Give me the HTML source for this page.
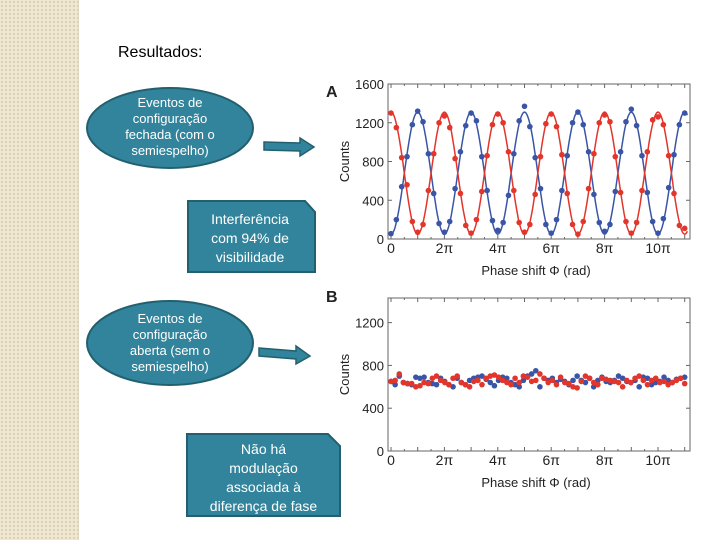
<!DOCTYPE html>
<html><head><meta charset="utf-8"><style>
body{margin:0;width:720px;height:540px;overflow:hidden;background:#fff;font-family:"Liberation Sans",sans-serif;position:relative}
.strip{position:absolute;left:0;top:0;width:78px;height:540px;background-color:#efe7d2;background-image:radial-gradient(#d9ceb0 1px,transparent 1.2px);background-size:4px 4px;border-right:1px solid #e0d6bd}
.t{position:absolute;color:#fff;text-align:center;font-size:13px;line-height:16px}
</style></head><body>
<div class="strip"></div>
<div style="position:absolute;left:118px;top:44px;font-size:16px">Resultados:</div>
<svg width="720" height="540" style="position:absolute;left:0;top:0" id="svg">
<g>
<ellipse cx="170" cy="128" rx="83" ry="40" fill="#31849b" stroke="#23606f" stroke-width="2"/></g>
<g>
<ellipse cx="170" cy="343" rx="83" ry="42" fill="#31849b" stroke="#23606f" stroke-width="2"/></g>
<polygon points="264,142 300,143 300,138 314,147 300,156 300,151 264,150" fill="#31849b" stroke="#23606f" stroke-width="1.5"/>
<polygon points="259,348 296,351 296,346 310,356 296,364 296,359 259,356" fill="#31849b" stroke="#23606f" stroke-width="1.5"/>
<polygon points="188,201 305,201 315,212 315,272 188,272" fill="#31849b" stroke="#23606f" stroke-width="2"/>
<polygon points="187,434 328,434 340,446 340,516 187,516" fill="#31849b" stroke="#23606f" stroke-width="2"/>
<g id="chartA"></g>
<g id="chartB"></g>
</svg>
<div class="t" style="left:95px;top:95px;width:150px">Eventos de<br>configuração<br>fechada (com o<br>semiespelho)</div>
<div class="t" style="left:95px;top:311px;width:150px">Eventos de<br>configuração<br>aberta (sem o<br>semiespelho)</div>
<div class="t" style="left:188px;top:210px;width:124px;font-size:14px;line-height:19px">Interferência<br>com 94% de<br>visibilidade</div>
<div class="t" style="left:187px;top:440px;width:153px;font-size:14px;line-height:19px">Não há<br>modulação<br>associada à<br>diferença de fase</div>
<script>
const xTicks=["0","2π","4π","6π","8π","10π"];
const yTicksA=[0,400,800,1200,1600];
const yTicksB=[0,400,800,1200];
const blueA=[55,200,540,850,1180,1320,1210,880,470,160,70,180,520,900,1170,1300,1220,850,500,190,90,170,450,880,1220,1370,1160,840,520,150,60,200,500,860,1200,1310,1180,900,460,170,80,150,490,900,1210,1340,1170,860,480,180,60,210,530,870,1180,1300];
const redA=[1300,1150,840,560,180,70,150,500,880,1200,1270,1150,830,470,140,60,200,490,860,1180,1290,1200,900,500,170,70,150,460,850,1190,1290,1160,870,470,150,50,180,520,880,1200,1280,1210,850,480,180,60,170,500,900,1230,1260,1180,860,470,140,110];
const fitMean=[680];
const fitAmp=[630];
const blueB=[650,620,700,640,630,620,690,680,690,640,630,620,680,650,620,600,680,640,620,660,680,690,700,670,640,610,660,690,680,640,620,600,660,700,720,750,600,680,660,680,640,670,650,620,660,700,660,640,680,600,660,690,650,640,660,700,680,650,640,660,600,690,680,620,640,650,690,660,640,670,680,690];
const redB=[650,660,720,640,630,630,600,610,640,630,680,700,660,640,620,680,700,640,620,600,650,660,620,680,700,710,690,660,640,620,680,640,700,690,650,660,720,680,640,660,620,690,640,630,600,590,650,700,680,640,620,680,670,660,650,640,600,660,640,680,700,660,620,660,680,640,650,620,640,660,680,630];
const NS="http://www.w3.org/2000/svg";
function mk(p,t,a){const e=document.createElementNS(NS,t);for(const k in a)e.setAttribute(k,a[k]);p.appendChild(e);return e;}
function axes(g,x0,x1,yTop,yBot,ymax,yt,letter,ly){
 const X=v=>391+v/(10*Math.PI)*267;
 const Y=v=>yBot-(v/ymax)*(yBot-yTop);
 const fr=mk(g,'rect',{x:x0,y:yTop,width:x1-x0,height:yBot-yTop,fill:'none',stroke:'#666','stroke-width':1});
 
 for(let i=0;i<=22;i++){const xx=X(i*Math.PI/2);if(xx>x1)break;mk(g,'line',{x1:xx,x2:xx,y1:yBot,y2:yBot-(i%2?2:4),stroke:'#666'});mk(g,'line',{x1:xx,x2:xx,y1:yTop,y2:yTop+(i%2?2:4),stroke:'#666'});}
 xTicks.forEach((s,i)=>{const t=mk(g,'text',{x:X(i*2*Math.PI),y:yBot+14,'text-anchor':'middle','font-size':14,fill:'#222'});t.textContent=s;
  });
 yt.forEach(v=>{const t=mk(g,'text',{x:x0-4,y:Y(v)+5,'text-anchor':'end','font-size':13,fill:'#222'});t.textContent=v;
  
  mk(g,'line',{x1:x0,x2:x0+4,y1:Y(v),y2:Y(v),stroke:'#666'});mk(g,'line',{x1:x1,x2:x1-4,y1:Y(v),y2:Y(v),stroke:'#666'});});
 const xl=mk(g,'text',{x:536,y:yBot+36,'text-anchor':'middle','font-size':13,fill:'#222'});xl.textContent='Phase shift Φ (rad)';
 
 const yl=mk(g,'text',{x:0,y:0,'text-anchor':'middle','font-size':13,fill:'#222',transform:`translate(349,${(yTop+yBot)/2}) rotate(-90)`});yl.textContent='Counts';
 
 const L=mk(g,'text',{x:326,y:ly,'font-size':16,'font-weight':'bold',fill:'#222'});L.textContent=letter;
 
 return {X,Y};
}
// chart A
const gA=document.getElementById('chartA');
const A=axes(gA,388,690,84,239,1600,yTicksA,'A',97);
['#3a55a6','#e2352b'].forEach((c,si)=>{let d='';for(let i=0;i<=300;i++){const ph=i/300*11.1*Math.PI;const v=fitMean[0]-(si?-1:1)*fitAmp[0]*Math.cos(ph);d+=(i?'L':'M')+A.X(ph).toFixed(1)+','+A.Y(v).toFixed(1);}
 const p=mk(gA,'path',{d,fill:'none',stroke:c,'stroke-width':1.5});});
[[blueA,'#3a55a6','blue-point'],[redA,'#e2352b','red-point']].forEach(([arr,c,n])=>arr.forEach((v,i)=>{const e=mk(gA,'circle',{cx:A.X(i*Math.PI/5),cy:A.Y(v),r:2.8,fill:c});
 }));
// chart B
const gB=document.getElementById('chartB');
const B=axes(gB,388,690,298,451,1430,yTicksB,'B',302);
[[blueB,'#3a55a6','blue-point'],[redB,'#e2352b','red-point']].forEach(([arr,c,n])=>arr.forEach((v,i)=>{const e=mk(gB,'circle',{cx:B.X(i*11*Math.PI/(arr.length-1)),cy:B.Y(v),r:2.8,fill:c});
 }));
</script>
</body></html>
